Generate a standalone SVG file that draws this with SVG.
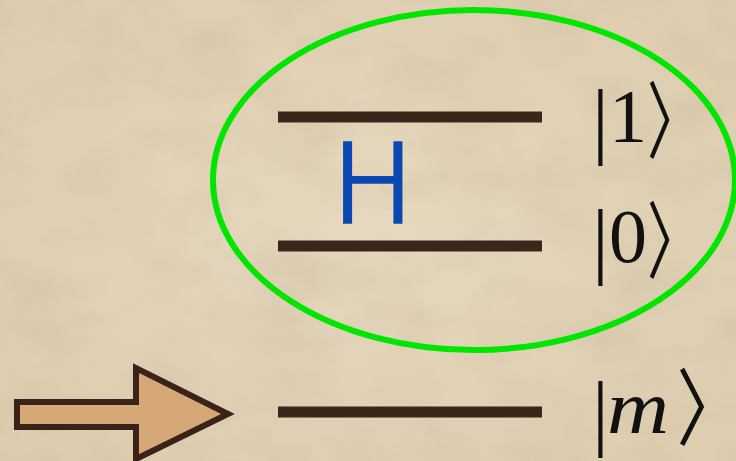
<svg xmlns="http://www.w3.org/2000/svg" width="736" height="461" viewBox="0 0 736 461">
<defs>
<radialGradient id="bg" cx="0.5" cy="0.5" r="0.8">
<stop offset="0" stop-color="#e6d9bf"/>
<stop offset="1" stop-color="#dccaab"/>
</radialGradient>
<filter id="tex" x="0" y="0" width="1" height="1">
<feTurbulence type="fractalNoise" baseFrequency="0.012 0.02" numOctaves="4" seed="3"/>
<feColorMatrix type="matrix" values="0 0 0 0 0.55  0 0 0 0 0.45  0 0 0 0 0.3  0 0 0 -1.6 1.0"/>
</filter>
<style>
.lvl{stroke:#3b261b;stroke-width:11;fill:none}
.bar{font-family:"Liberation Serif",serif;font-size:84px;fill:#111}
.num{font-family:"Liberation Serif",serif;font-size:76px;fill:#111}
.ang{font-family:"Noto Sans CJK JP","DejaVu Sans",sans-serif;font-size:84px;fill:#111;letter-spacing:-40px}
</style>
</defs>
<rect width="736" height="461" fill="url(#bg)"/>
<rect width="736" height="461" filter="url(#tex)" opacity="0.35"/>
<g id="arrow">
<path d="M17,402 H136 V368 L228,414 L136,459 V427 H17 Z" fill="#d7a877" stroke="#3b2218" stroke-width="6" stroke-linejoin="miter"/>
</g>
<g id="qubit">
<ellipse cx="474" cy="180" rx="261" ry="170" fill="none" stroke="#00e600" stroke-width="6"/>
</g>
<g id="level1">
<line class="lvl" x1="278" y1="117" x2="542" y2="117"/>
<text class="bar" x="592" y="148">|</text>
<text class="num" x="609" y="142">1</text>
<text class="ang" transform="translate(647 152) scale(0.65 1)">〉</text>
</g>
<g id="level0">
<line class="lvl" x1="278" y1="246" x2="542" y2="246"/>
<text class="bar" x="592" y="268">|</text>
<text class="num" x="609" y="262">0</text>
<text class="ang" transform="translate(647 272) scale(0.65 1)">〉</text>
</g>
<g id="levelm">
<line class="lvl" x1="278" y1="412" x2="542" y2="412"/>
<text class="bar" x="592" y="440">|</text>
<text class="num" x="607" y="433" font-style="italic" font-size="72" textLength="62" lengthAdjust="spacingAndGlyphs">m</text>
<text class="ang" font-size="72" letter-spacing="-30" transform="translate(676.5 439) scale(0.8 1)">〉</text>
</g>
<g id="H">
<text x="373" y="222" text-anchor="middle" font-family="DejaVu Sans, sans-serif" font-weight="200" font-size="108" fill="#0b48b2" stroke="#0b48b2" stroke-width="3.5" transform="translate(373 0) scale(1.02 1) translate(-373 0)">H</text>
</g>
</svg>
